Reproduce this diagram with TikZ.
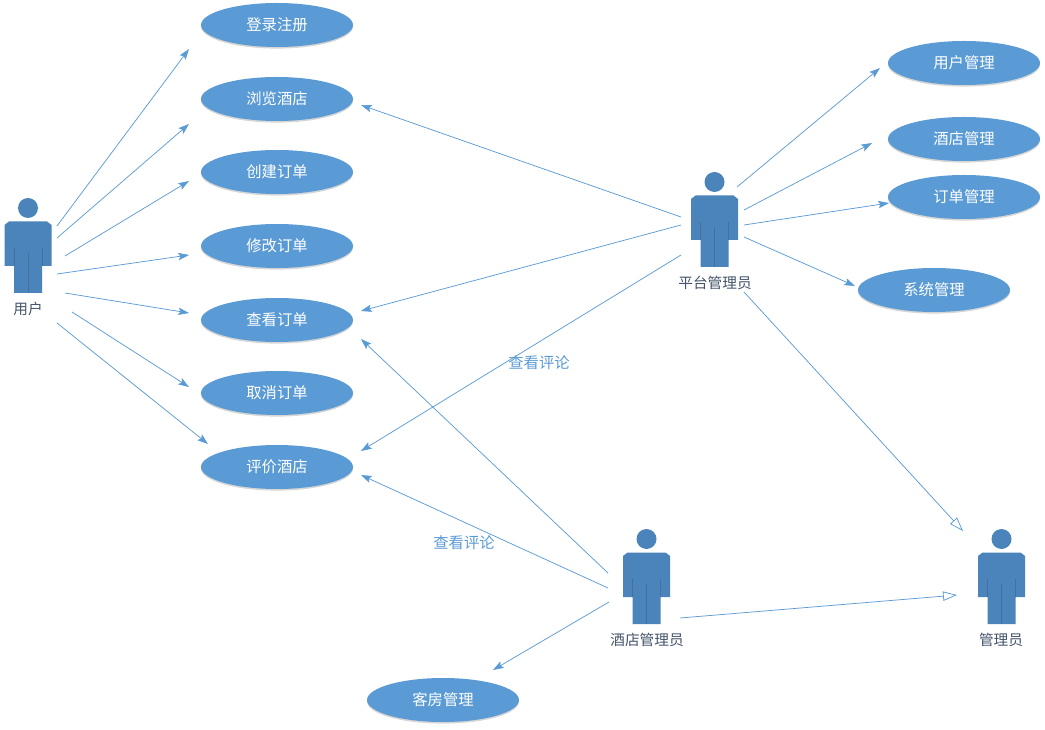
\documentclass[tikz,border=0pt]{standalone}
\usepackage{fontspec}
\setmainfont{Noto Sans CJK SC}
\usetikzlibrary{arrows.meta,shadows,shapes.geometric}
\definecolor{blu}{HTML}{5B9BD5}
\definecolor{act}{HTML}{4A84BA}
\definecolor{actline}{HTML}{41719C}
\definecolor{lbl}{HTML}{44546A}
\tikzset{
  usecase/.style={ellipse,fill=blu,minimum width=114pt,minimum height=33pt,inner sep=0pt,text=white,font=\fontsize{11.5pt}{14pt}\selectfont,
    drop shadow={shadow xshift=0pt,shadow yshift=-1.2pt,fill=black,opacity=.16}},
  assoc/.style={draw=blu,line width=.55pt,-{Stealth[length=8pt,width=5.5pt,inset=1.5pt]}},
  general/.style={draw=blu,line width=.55pt,-{Triangle[open,length=10.5pt,width=7pt,fill=white]}},
  actorname/.style={text=lbl,inner sep=0pt,font=\fontsize{11pt}{13pt}\selectfont},
  edgelabel/.style={text=blu,inner sep=0pt,font=\fontsize{11.5pt}{14pt}\selectfont},
}
\newcommand{\actorfig}[2]{% x of centre, y of top of the head
  \begin{scope}[shift={(#1,#2)}]
    \fill[act] (0,10) circle[radius=10];
    \fill[act] (-23.5,27) -- (-19,23.5) -- (19,23.5) -- (23.5,27) -- (23.5,68) -- (14,68) -- (14,95) -- (-14,95) -- (-14,68) -- (-23.5,68) -- cycle;
    \draw[actline,line width=.35pt] (0,55) -- (0,95) (-14,50) -- (-14,68) (14,50) -- (14,68);
  \end{scope}}
\begin{document}
\begin{tikzpicture}[x=.75pt,y=-.75pt]
\useasboundingbox (0,0) rectangle (1045,730);
\fill[white] (0,0) rectangle (1045,730);
% use cases
\node[usecase] (login) at (277,25) {登录注册};
\node[usecase] (browse) at (277,99) {浏览酒店};
\node[usecase] (create) at (277,172) {创建订单};
\node[usecase] (modify) at (277,246) {修改订单};
\node[usecase] (view) at (277,320) {查看订单};
\node[usecase] (cancel) at (277,393) {取消订单};
\node[usecase] (review) at (277,467) {评价酒店};
\node[usecase] (usermgr) at (964,63) {用户管理};
\node[usecase] (hotelmgr) at (964,139) {酒店管理};
\node[usecase] (ordermgr) at (964,197) {订单管理};
\node[usecase] (sysmgr) at (934,290) {系统管理};
\node[usecase] (roommgr) at (443,700) {客房管理};
% actors
\actorfig{28}{198}
\actorfig{714.5}{172}
\actorfig{646.5}{529}
\actorfig{1001.5}{529}
\node[actorname] (user) at (28,309) {用户};
\node[actorname] (platform) at (715,283) {平台管理员};
\node[actorname] (hotel) at (647,640) {酒店管理员};
\node[actorname] (admin) at (1001,640) {管理员};
% connector ends
\coordinate (u1) at (57,226); \coordinate (t1) at (189,49);
\coordinate (u2) at (57,238); \coordinate (t2) at (189,124);
\coordinate (u3) at (65,256); \coordinate (t3) at (189,181);
\coordinate (u4) at (57,274); \coordinate (t4) at (189,255);
\coordinate (u5) at (65,293); \coordinate (t5) at (189,313);
\coordinate (u6) at (72,312); \coordinate (t6) at (189,387);
\coordinate (u7) at (57,323); \coordinate (t7) at (208,444);
\coordinate (p1) at (681,217); \coordinate (q1) at (361,105);
\coordinate (p2) at (681,225); \coordinate (q2) at (361,311);
\coordinate (p3) at (681,255); \coordinate (q3) at (361,451);
\coordinate (p4) at (737,187); \coordinate (q4) at (880,68);
\coordinate (p5) at (744,210); \coordinate (q5) at (872,143);
\coordinate (p6) at (744,225); \coordinate (q6) at (889,203);
\coordinate (p7) at (744,237); \coordinate (q7) at (855,286);
\coordinate (p8) at (744,292); \coordinate (q8) at (963,531);
\coordinate (h1) at (608,573); \coordinate (r1) at (361,339);
\coordinate (h2) at (608,588); \coordinate (r2) at (361,475);
\coordinate (h3) at (609,602); \coordinate (r3) at (493,670);
\coordinate (h4) at (680,618); \coordinate (r4) at (957,595);
\foreach \a/\b in {u1/t1,u2/t2,u3/t3,u4/t4,u5/t5,u6/t6,u7/t7,p1/q1,p2/q2,p3/q3,p4/q4,p5/q5,p6/q6,p7/q7,h1/r1,h2/r2,h3/r3}
  \draw[assoc] (\a) -- (\b);
\draw[general] (p8) -- (q8);
\draw[general] (h4) -- (r4);
\node[edgelabel] (lab1) at (539,363) {查看评论};
\node[edgelabel] (lab2) at (464,543) {查看评论};
\end{tikzpicture}
\end{document}
